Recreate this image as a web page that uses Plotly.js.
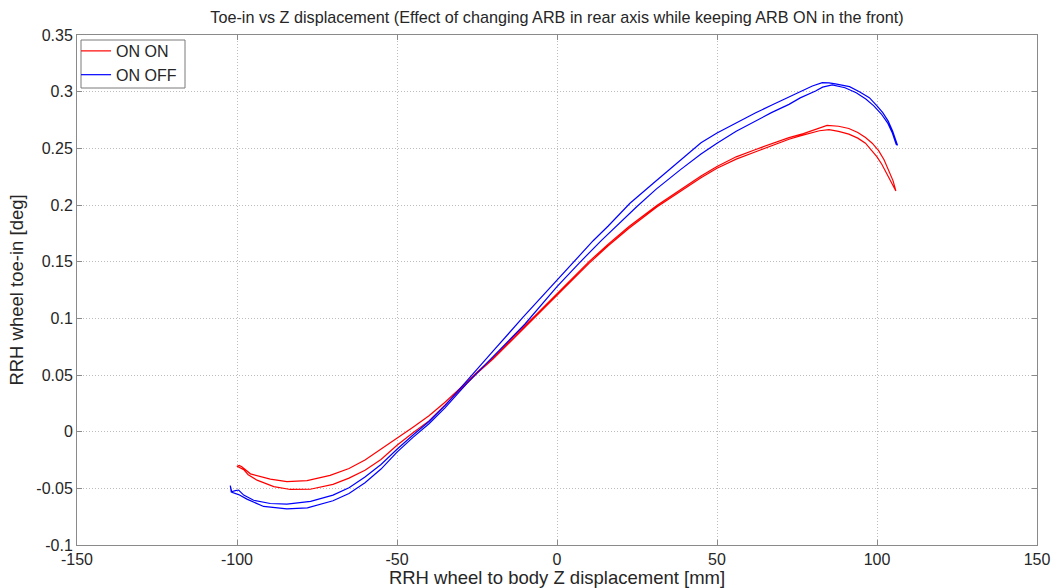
<!DOCTYPE html>
<html>
<head>
<meta charset="utf-8">
<script src="https://cdn.plot.ly/plotly-3.0.1.min.js"></script>
<style>html,body{margin:0;padding:0;background:#fff;}#chart{width:1057px;height:588px;}</style>
</head>
<body>
<div id="chart"></div>
<script>
// ON ON (red) hysteresis loop: upper branch left->right, then lower branch right->left
const onOnX = [-97.9,-99.2,-100.0,-99.3,-98.5,-95.8,-92,-89.6,-84.4,-78.1,-70.9,-65,-60,-55,-50,-45,-40,-35,-30,-25,-20,-13.7,-7,0,5,10,16,22.5,31.2,39.5,45,50,56,62.1,68,72.5,77,81,84.4,88,91.2,94,96.4,98.5,100.5,102.2,103.6,105,105.9,
  105.4,104.3,103,101.5,100,98,96.4,94,91.2,88,85,82,79.8,76,72.5,68,62.1,56,50,45,39.5,31.2,22.5,16,10,5,0,-7,-13.7,-20,-25,-30,-35,-40,-45,-50,-55,-60,-65,-70,-77.1,-83.3,-88.5,-93.75,-96.5,-97.9];
const onOnY = [-0.0335,-0.0318,-0.0305,-0.0298,-0.0310,-0.0372,-0.0400,-0.0418,-0.0440,-0.0432,-0.0385,-0.0325,-0.0250,-0.0155,-0.0055,0.0040,0.0140,0.0260,0.0390,0.0525,0.0650,0.0835,0.102,0.1215,0.1360,0.1500,0.1655,0.1810,0.1995,0.2155,0.2255,0.2340,0.2425,0.2490,0.2550,0.2595,0.2630,0.2670,0.2703,0.2695,0.2675,0.2640,0.2595,0.2545,0.2480,0.2400,0.2310,0.2215,0.2124,
  0.2150,0.2220,0.2280,0.2360,0.2425,0.2490,0.2545,0.2590,0.2625,0.2650,0.2665,0.2655,0.2640,0.2610,0.2580,0.2535,0.2470,0.2405,0.2325,0.2240,0.2140,0.1982,0.1795,0.1640,0.1485,0.1345,0.1205,0.1010,0.0825,0.0640,0.0515,0.0375,0.0240,0.0095,-0.0010,-0.0120,-0.0245,-0.0340,-0.0410,-0.0465,-0.0508,-0.0510,-0.0485,-0.0428,-0.0380,-0.0335];

// ON OFF (blue) hysteresis loop
const onOffX = [-99.5,-101.6,-102.1,-101.8,-100.5,-99.5,-97.9,-94.8,-89.6,-84.4,-77,-70,-65,-60,-55,-50,-45,-40,-35,-28,-20,-10.6,0,5,11.3,16,22.8,30,36.4,41.4,45,50,56,62.1,67,72.5,76,79.8,82.9,85,87,91.4,94.5,97.6,100,101.8,103.5,104.9,106.4,
  106,104.8,103.3,101.3,99,96.5,93.5,90,86,83,80.8,76,72.5,67,62.1,56,50,45,38.5,31,24.9,19,13.9,7,0,-10,-20,-28,-35,-40,-45,-50,-55,-60,-65,-70,-78,-84.4,-91.7,-96.9,-99.5];
const onOffY = [-0.0555,-0.0535,-0.0476,-0.0530,-0.0520,-0.0515,-0.0560,-0.0605,-0.0634,-0.0640,-0.0615,-0.0560,-0.0495,-0.0400,-0.0290,-0.0155,-0.0030,0.0090,0.0230,0.0450,0.0710,0.1010,0.1340,0.1495,0.1685,0.1815,0.2015,0.2190,0.2340,0.2465,0.2550,0.2635,0.2725,0.2814,0.2880,0.2953,0.3005,0.3050,0.3080,0.3078,0.3068,0.3044,0.3000,0.2947,0.2875,0.2815,0.2740,0.2650,0.2527,
  0.2535,0.2635,0.2725,0.2805,0.2875,0.2935,0.2990,0.3035,0.3060,0.3040,0.3006,0.2945,0.2888,0.2815,0.2740,0.2650,0.2545,0.2450,0.2310,0.2140,0.1985,0.1830,0.1688,0.1490,0.1280,0.0950,0.0660,0.0430,0.0210,0.0070,-0.0050,-0.0180,-0.0330,-0.0450,-0.0545,-0.0610,-0.0672,-0.0682,-0.0660,-0.0595,-0.0555];

const seriesNames = ["ON ON", "ON OFF"];
const xTickVals = [-150,-100,-50,0,50,100,150];
const xTickText = ["-150","-100","-50","0","50","100","150"];
const yTickVals = [-0.1,-0.05,0,0.05,0.1,0.15,0.2,0.25,0.3,0.35];
const yTickText = ["-0.1","-0.05","0","0.05","0.1","0.15","0.2","0.25","0.3","0.35"];

const FONT = "Liberation Sans, Arial, Helvetica, sans-serif";
const TXT = "#262626";

const traces = [
  {x: onOnX, y: onOnY, name: seriesNames[0], type: "scatter", mode: "lines",
   line: {color: "#ff0000", width: 1.2}},
  {x: onOffX, y: onOffY, name: seriesNames[1], type: "scatter", mode: "lines",
   line: {color: "#0000ff", width: 1.2}}
];

const axisCommon = {
  showline: true, linecolor: "#8a8a8a", linewidth: 1, mirror: "ticks",
  ticks: "inside", ticklen: 5, tickcolor: "#8a8a8a", tickwidth: 1,
  showgrid: true, gridcolor: "#bdbdbd", griddash: "1px,2px", gridwidth: 1,
  zeroline: false, tickfont: {family: FONT, size: 16, color: TXT}
};

const layout = {
  width: 1057, height: 588,
  margin: {l: 77, r: 20, t: 35, b: 43, pad: 0},
  paper_bgcolor: "#ffffff", plot_bgcolor: "#ffffff",
  font: {family: FONT, color: TXT},
  title: {text: "Toe-in vs Z displacement (Effect of changing ARB in rear axis while keeping ARB ON in the front)",
          font: {family: FONT, size: 16.2, color: TXT},
          x: 0.5, xref: "paper", y: 1 - 17/588, yref: "container", yanchor: "middle"},
  xaxis: Object.assign({}, axisCommon, {
    range: [-150, 150], tickmode: "array", tickvals: xTickVals, ticktext: xTickText,
    title: {text: "RRH wheel to body Z displacement [mm]", font: {family: FONT, size: 18.5, color: TXT}, standoff: 0}
  }),
  yaxis: Object.assign({}, axisCommon, {
    range: [-0.1, 0.35], tickmode: "array", tickvals: yTickVals, ticktext: yTickText,
    title: {text: "RRH wheel toe-in [deg]", font: {family: FONT, size: 18.5, color: TXT}, standoff: 7}
  }),
  showlegend: true,
  legend: {x: -0.001, y: 1.002, xanchor: "left", yanchor: "top",
           bgcolor: "rgba(0,0,0,0)", borderwidth: 0,
           font: {family: FONT, size: 16, color: TXT},
           itemwidth: 30, tracegroupgap: 0},
  shapes: [
    {type: "rect", xref: "paper", yref: "paper", layer: "above",
     x0: 4/960, x1: 108/960, y0: 457/510, y1: 505/510,
     line: {color: "#7a7a7a", width: 1}, fillcolor: "rgba(0,0,0,0)"}
  ]
};

Plotly.newPlot("chart", traces, layout, {displayModeBar: false, staticPlot: true});
</script>
</body>
</html>
